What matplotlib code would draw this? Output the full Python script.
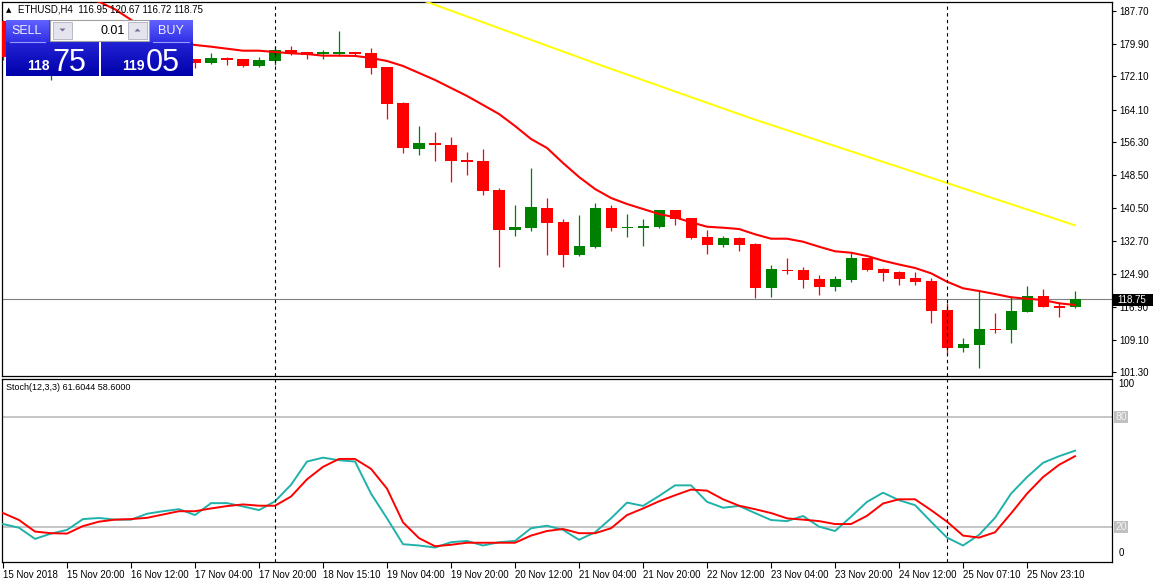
import numpy as np
import matplotlib
matplotlib.use("Agg")
import matplotlib.pyplot as plt
from matplotlib.colors import LinearSegmentedColormap
from matplotlib.patches import Rectangle, Polygon

plt.rcParams['font.family'] = ['Liberation Sans', 'DejaVu Sans']

# ETHUSD H4 candles (first bars sit behind the trade panel)
opens = [185.3, 177.0, 178.5, 176.0, 178.0, 180.0, 178.0, 179.0, 178.3, 177.5, 178.6, 177.2,
         176.15, 175.3, 176.46, 176.22, 174.61, 175.81, 178.37, 177.82, 177.53, 177.53, 177.6, 177.65,
         174.3, 165.69, 154.76, 156.12, 155.65, 152.06, 151.82, 144.88, 135.39, 135.86, 140.57, 137.22,
         129.4, 131.32, 140.57, 135.86, 135.86, 136.1, 140.1, 138.18, 133.64, 131.8, 133.4, 131.96,
         121.51, 125.75, 125.75, 123.59, 121.75, 123.43, 128.62, 125.99, 125.27, 123.83, 123.11, 116.18,
         107.16, 107.88, 111.7, 111.46, 115.77, 119.53, 117.2, 116.95]
highs = [185.5, 179.5, 180.0, 179.0, 181.0, 181.5, 180.0, 181.0, 180.0, 179.0, 179.5, 178.0,
         176.3, 177.65, 176.77, 176.22, 176.62, 179.33, 179.33, 177.82, 178.37, 182.92, 177.89, 178.85,
         174.3, 165.9, 160.19, 158.76, 157.56, 153.97, 154.69, 145.36, 141.29, 150.14, 142.97, 138.01,
         138.9, 141.77, 141.29, 139.14, 137.94, 140.2, 140.2, 138.3, 135.39, 133.88, 133.64, 132.28,
         126.94, 128.62, 126.46, 124.55, 124.31, 130.05, 128.7, 126.3, 125.4, 125.34, 123.83, 117.85,
         109.48, 120.79, 115.46, 119.53, 121.92, 121.2, 118.16, 120.67]
lows = [176.0, 174.0, 175.5, 171.3, 176.5, 177.0, 176.0, 177.5, 176.5, 175.8, 176.8, 175.5,
        174.0, 175.0, 174.85, 174.38, 174.3, 174.85, 177.25, 176.29, 176.29, 176.94, 176.94, 172.7,
        161.8, 153.8, 153.33, 151.89, 146.87, 148.54, 143.76, 126.53, 133.95, 135.14, 129.4, 126.53,
        129.2, 131.08, 135.14, 133.71, 131.56, 135.86, 136.51, 133.16, 129.64, 131.32, 130.36, 119.12,
        119.36, 124.86, 121.51, 119.84, 120.79, 122.95, 125.51, 123.19, 122.23, 122.23, 113.14, 105.72,
        106.2, 102.38, 110.75, 108.35, 115.77, 116.97, 114.57, 116.72]
closes = [176.7, 178.5, 176.0, 178.0, 180.0, 178.0, 179.0, 178.3, 177.5, 178.6, 177.2, 176.2,
          175.33, 176.46, 176.05, 174.61, 175.98, 178.37, 177.41, 177.25, 177.6, 177.6, 177.53, 174.14,
          165.53, 155.0, 156.12, 155.57, 151.89, 151.65, 144.71, 135.39, 136.03, 140.81, 137.06, 129.4,
          131.48, 140.57, 135.86, 136.1, 136.34, 140.1, 137.94, 133.47, 131.8, 133.4, 131.8, 121.51,
          125.99, 125.51, 123.43, 121.75, 123.59, 128.62, 125.82, 125.1, 123.66, 122.95, 116.01, 107.16,
          108.04, 111.63, 111.39, 115.94, 119.53, 116.97, 116.73, 118.75]

# moving averages
ma_red = [197.0, 195.5, 194.0, 192.6, 191.6, 190.8, 189.9, 188.1, 185.6, 182.8, 181.0, 180.1,
          179.57, 179.16, 178.68, 178.2, 178.2, 177.89, 177.58, 177.41, 177.01, 177.01, 176.95, 176.46,
          175.74, 174.54, 172.87, 171.2, 169.28, 167.37, 165.22, 163.06, 160.19, 157.08, 154.93, 151.34,
          147.99, 145.12, 142.97, 141.53, 140.34, 139.14, 138.35, 137.16, 136.1, 135.86, 135.55, 134.29,
          133.23, 133.23, 132.51, 131.32, 130.22, 129.88, 129.1, 127.97, 127.06, 126.23, 124.96, 122.95,
          121.37, 120.72, 120.0, 119.22, 118.88, 118.57, 117.78, 117.37]
ma_yellow_start = 26
ma_yellow = [190.57, 189.18, 187.77, 186.38, 185.0, 183.59, 182.2, 180.79, 179.4, 178.01, 176.62,
             175.21, 173.85, 172.51, 171.15, 169.81, 168.44, 167.1, 165.74, 164.4, 163.04, 161.7,
             160.45, 159.19, 157.92, 156.65, 155.4, 154.14, 152.87, 151.6, 150.36, 149.09, 147.82,
             146.55, 145.29, 144.02, 142.75, 141.51, 140.24, 138.97, 137.7, 136.43]

# Stoch(12,3,3)
stoch_main = [21.6, 19.6, 13.5, 16.4, 18.4, 24.3, 24.9, 24.0, 24.0, 27.2, 28.6, 29.7,
              26.5, 33.0, 33.0, 31.2, 29.2, 34.0, 43.0, 55.7, 57.8, 56.4, 55.7, 38.2,
              24.7, 10.6, 9.9, 8.8, 11.7, 12.4, 9.9, 11.7, 12.4, 19.3, 20.7, 18.4,
              13.0, 17.1, 24.7, 33.3, 31.5, 36.9, 42.7, 42.7, 33.7, 30.5, 31.5, 27.6,
              23.8, 23.2, 26.0, 20.2, 17.8, 25.6, 33.7, 38.7, 34.6, 31.9, 22.9, 14.2,
              9.9, 15.7, 25.0, 38.2, 47.2, 55.0, 58.6, 61.6]
stoch_signal = [27.6, 23.8, 17.5, 16.6, 16.4, 20.5, 22.9, 24.0, 24.3, 25.0, 26.8, 28.6,
                28.6, 30.1, 31.4, 32.3, 31.6, 31.6, 36.6, 46.0, 52.8, 57.1, 57.1, 51.7,
                40.9, 22.5, 13.9, 9.5, 10.3, 11.4, 11.4, 11.4, 11.4, 15.3, 17.8, 18.9,
                16.6, 16.6, 19.3, 26.5, 30.1, 34.0, 37.3, 40.4, 39.8, 35.1, 31.6, 29.7,
                27.6, 24.7, 24.0, 23.2, 21.6, 21.6, 26.1, 32.8, 35.1, 35.1, 29.2, 22.9,
                15.3, 14.2, 17.1, 27.4, 38.2, 47.2, 53.9, 58.6]

price_ticks = [187.70, 179.90, 172.10, 164.10, 156.30, 148.50, 140.50, 132.70, 124.90, 116.90, 109.10, 101.30]
time_labels = ["15 Nov 2018", "15 Nov 20:00", "16 Nov 12:00", "17 Nov 04:00", "17 Nov 20:00",
               "18 Nov 15:10", "19 Nov 04:00", "19 Nov 20:00", "20 Nov 12:00", "21 Nov 04:00",
               "21 Nov 20:00", "22 Nov 12:00", "23 Nov 04:00", "23 Nov 20:00", "24 Nov 12:00",
               "25 Nov 07:10", "25 Nov 23:10"]
separators = [17, 59]
bid = 118.75

W, H = 1153, 585
fig = plt.figure(figsize=(W / 100, H / 100), dpi=100)


def box(x0, y0, x1, y1):
    # pixel box -> figure fraction
    return [x0 / W, 1 - y1 / H, (x1 - x0) / W, (y1 - y0) / H]


ax = fig.add_axes(box(2, 2, 1112, 376))
ax2 = fig.add_axes(box(2, 379, 1112, 562))

idx = np.arange(len(opens))
o, h, l, c = map(np.array, (opens, highs, lows, closes))
cols = np.where(c >= o, '#008000', '#ff0000')

ax.vlines(idx, l, h, colors=cols, lw=0.9, zorder=2)
body = np.maximum(np.abs(c - o), 0.28)
ax.bar(idx, body, bottom=np.minimum(o, c), width=0.69, color=cols, lw=0, zorder=3)

ax.plot(idx, ma_red, color='#ff0000', lw=1.5, zorder=4)
yi = np.arange(ma_yellow_start, ma_yellow_start + len(ma_yellow))
ax.plot(yi, ma_yellow, color='#ffff00', lw=1.4, zorder=4)
ax.axhline(bid, color='#808080', lw=0.8, zorder=1)

ax.set_xlim(-0.0625, 69.31)
ax.set_ylim(100.39, 189.85)
ax.yaxis.tick_right()
ax.set_yticks(price_ticks)
ax.set_yticklabels(['%.2f' % v for v in price_ticks])
ax.tick_params(axis='y', direction='out', length=3, width=0.8, labelsize=7, pad=2)
ax.set_xticks([])

# stochastic panel
ax2.plot(idx, stoch_main, color='#20b2aa', lw=1.4, zorder=3)
ax2.plot(idx, stoch_signal, color='#ff0000', lw=1.4, zorder=4)
for lev in (80, 20):
    ax2.axhline(lev, color='#c0c0c0', lw=1.3, zorder=1)
    ax2.text(1.003, lev, str(lev), transform=ax2.get_yaxis_transform(), fontsize=7.5,
             color='#f4f4f4', va='center', ha='left',
             bbox=dict(boxstyle='square,pad=0.12', fc='#c0c0c0', ec='none'), clip_on=False)
ax2.text(1.006, 1.0, '100', transform=ax2.transAxes, fontsize=7, va='top', ha='left')
ax2.text(1.006, 0.02, '0', transform=ax2.transAxes, fontsize=7, va='bottom', ha='left')
ax2.set_xlim(-0.0625, 69.31)
ax2.set_ylim(0.9, 100.7)
ax2.set_yticks([])
ax2.set_xticks(idx[::4][:len(time_labels)])
ax2.set_xticklabels(time_labels)
plt.setp(ax2.get_xticklabels(), ha='left')
ax2.tick_params(axis='x', direction='out', length=4, width=0.8, labelsize=7, pad=2)
ax2.text(0.004, 0.955, 'Stoch(12,3,3) 61.6044 58.6000', transform=ax2.transAxes,
         fontsize=6.5, va='center', ha='left')

for a in (ax, ax2):
    for s in a.spines.values():
        s.set_linewidth(0.9)
    for x in separators:
        a.axvline(x, color='black', lw=0.8, ls=(0, (3, 3)), zorder=5)

# overlay in pixel coordinates: title, trade panel, price label
ov = fig.add_axes([0, 0, 1, 1], zorder=10)
ov.axis('off')


def grad(x0, y0, x1, y1, top, bottom):
    cm = LinearSegmentedColormap.from_list('g', [top, bottom])
    ov.imshow(np.linspace(0, 1, 64).reshape(-1, 1), cmap=cm, extent=[x0, x1, y1, y0],
              aspect='auto', interpolation='bilinear', zorder=2)


ov.add_patch(Rectangle((6, 20), 187, 56, fc='white', ec='none', zorder=1))
grad(6, 20, 99, 76, '#3a3af2', '#0000aa')
grad(101, 20, 193, 76, '#3a3af2', '#0000aa')
grad(6, 20, 49, 42, '#6262ff', '#3030e6')
grad(149, 20, 193, 42, '#6262ff', '#3030e6')
ov.plot([10, 45], [42, 42], color='#9a9aff', lw=0.8, zorder=3)
ov.plot([153, 189], [42, 42], color='#9a9aff', lw=0.8, zorder=3)
ov.add_patch(Rectangle((50, 20), 99, 21, fc='white', ec='#a0a0a0', lw=0.8, zorder=3))
for bx in (53, 128):
    ov.add_patch(Rectangle((bx, 22), 19, 17, fc='#e4e4ec', ec='#b0b0c0', lw=0.6, zorder=4))
ov.add_patch(Polygon([[59.5, 28.5], [65.5, 28.5], [62.5, 31.5]], closed=True, fc='#7070a0', ec='none', zorder=5))
ov.add_patch(Polygon([[134.5, 31.5], [140.5, 31.5], [137.5, 28.5]], closed=True, fc='#7070a0', ec='none', zorder=5))
ov.text(125, 31, '0.01', fontsize=9, ha='right', va='center', color='black', zorder=6)
ov.text(27, 31, 'SELL', fontsize=9, ha='center', va='center', color='#f0f0ff', zorder=6)
ov.text(171, 31, 'BUY', fontsize=9, ha='center', va='center', color='#f0f0ff', zorder=6)
ov.text(50, 70.5, '118', fontsize=10, fontweight='bold', ha='right', va='baseline', color='white', zorder=6)
ov.text(52, 71, '75', fontsize=22, ha='left', va='baseline', color='white', zorder=6)
ov.text(145, 70.5, '119', fontsize=10, fontweight='bold', ha='right', va='baseline', color='white', zorder=6)
ov.text(146, 71, '05', fontsize=22, ha='left', va='baseline', color='white', zorder=6)

ov.text(6, 10, '\u25b2', fontsize=5, ha='left', va='center', color='black', zorder=6,
        family=['DejaVu Sans'])
ov.text(18, 10, 'ETHUSD,H4  116.95 120.67 116.72 118.75', fontsize=7, ha='left', va='center',
        color='black', zorder=6)

ov.add_patch(Rectangle((1113, 294), 40, 12, fc='black', ec='none', zorder=6))
ov.text(1117, 300, '%.2f' % bid, fontsize=7, ha='left', va='center', color='white', zorder=7)

ov.set_xlim(0, W)
ov.set_ylim(H, 0)

fig.savefig('out.png', dpi=100, facecolor='white')
